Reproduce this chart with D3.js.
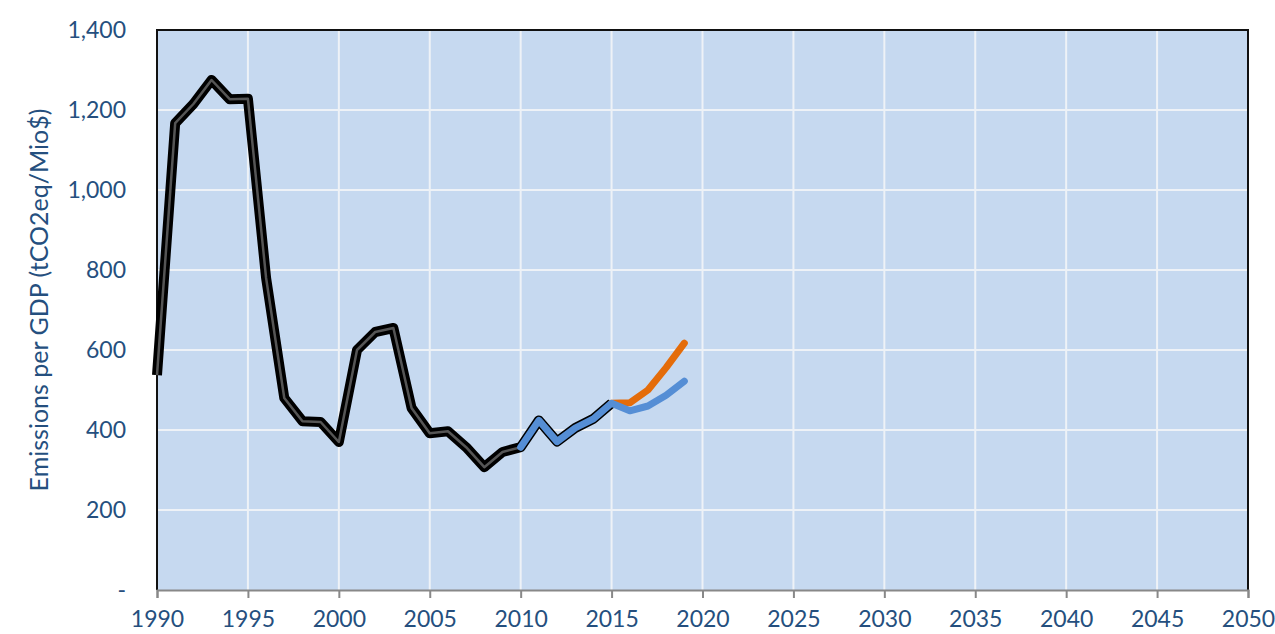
<!DOCTYPE html>
<html>
<head>
<meta charset="utf-8">
<script src="https://cdn.jsdelivr.net/npm/d3@7"></script>
<style>
  body { margin: 0; background: #fff; }
  text { font-family: Lato, "Open Sans", sans-serif; fill: #254f7e; }
</style>
</head>
<body>
<div id="chart"></div>
<script>
const width = 1275;
const height = 634;

// Data.
const histYears = [1990, 1991, 1992, 1993, 1994, 1995, 1996, 1997, 1998, 1999,
  2000, 2001, 2002, 2003, 2004, 2005, 2006, 2007, 2008, 2009,
  2010, 2011, 2012, 2013, 2014, 2015];
const histValues = [537, 1167, 1215, 1275, 1227, 1228, 780, 480, 422, 420,
  370, 600, 645, 655, 455, 392, 397, 357, 307, 345,
  357, 424, 371, 405, 428, 467];

const blueYears = [2010, 2011, 2012, 2013, 2014, 2015, 2016, 2017, 2018, 2019];
const blueValues = [357, 424, 371, 405, 428, 467, 448, 460, 487, 522];

const orangeYears = [2015, 2016, 2017, 2018, 2019];
const orangeValues = [467, 468, 500, 556, 617];

const xTicks = d3.range(1990, 2051, 5);
const yTicks = [0, 200, 400, 600, 800, 1000, 1200, 1400];

const margin = { top: 30, right: 27, bottom: 44, left: 157 };

const svg = d3.select("#chart")
  .append("svg")
  .attr("width", width)
  .attr("height", height);

const x = d3.scaleLinear()
  .domain([1990, 2050])
  .range([margin.left, width - margin.right]);

const y = d3.scaleLinear()
  .domain([0, 1400])
  .range([height - margin.bottom, margin.top]);

// plot background
svg.append("rect")
  .attr("x", x(1990))
  .attr("y", y(1400))
  .attr("width", x(2050) - x(1990))
  .attr("height", y(0) - y(1400))
  .attr("fill", "#c6d9f0");

// grid
svg.append("g")
  .selectAll("line")
  .data(yTicks.slice(1))
  .join("line")
  .attr("x1", x(1990))
  .attr("x2", x(2050))
  .attr("y1", d => y(d))
  .attr("y2", d => y(d))
  .attr("stroke", "#eef2f7")
  .attr("stroke-width", 2);

svg.append("g")
  .selectAll("line")
  .data(xTicks.slice(1, -1))
  .join("line")
  .attr("x1", d => x(d))
  .attr("x2", d => x(d))
  .attr("y1", y(0))
  .attr("y2", y(1400))
  .attr("stroke", "#eef2f7")
  .attr("stroke-width", 2);

// borders
svg.append("path")
  .attr("d", `M${x(1990)},${y(0)}V${y(1400)}H${x(2050)}V${y(0)}`)
  .attr("fill", "none")
  .attr("stroke", "#111")
  .attr("stroke-width", 2);

// x axis
const xAxis = svg.append("g")
  .attr("transform", `translate(0,${y(0)})`)
  .call(d3.axisBottom(x).tickValues(xTicks).tickFormat(d3.format("d")).tickSize(8).tickPadding(13));
xAxis.select(".domain").attr("stroke", "#888").attr("stroke-width", 2);
xAxis.selectAll(".tick line").attr("stroke", "#888").attr("stroke-width", 2);
xAxis.selectAll("text")
  .attr("font-size", 23)
  .attr("font-family", "Lato, sans-serif")
  .attr("fill", "#254f7e");

// y axis
const yAxis = svg.append("g")
  .attr("transform", `translate(${x(1990)},0)`)
  .call(d3.axisLeft(y).tickValues(yTicks)
    .tickFormat(d => d === 0 ? "-" : d3.format(",")(d))
    .tickSize(0).tickPadding(31));
yAxis.select(".domain").remove();
yAxis.selectAll("text")
  .attr("font-size", 23)
  .attr("font-family", "Lato, sans-serif")
  .attr("fill", "#254f7e");

svg.append("text")
  .attr("transform", `translate(48,${(y(0) + y(1400)) / 2 - 10}) rotate(-90)`)
  .attr("text-anchor", "middle")
  .attr("font-size", 25)
  .text("Emissions per GDP (tCO2eq/Mio$)");

// lines
const line = d3.line()
  .x(d => x(d[0]))
  .y(d => y(d[1]))
  .curve(d3.curveLinear);

const hist = d3.zip(histYears, histValues);

svg.append("path")
  .datum(hist)
  .attr("d", line)
  .attr("fill", "none")
  .attr("stroke", "#000")
  .attr("stroke-width", 10)
  .attr("stroke-linejoin", "round");

svg.append("path")
  .datum(hist)
  .attr("d", line)
  .attr("fill", "none")
  .attr("stroke", "#555")
  .attr("stroke-width", 2.5)
  .attr("stroke-linejoin", "round");

svg.append("path")
  .datum(d3.zip(orangeYears, orangeValues))
  .attr("d", line)
  .attr("fill", "none")
  .attr("stroke", "#e46c0a")
  .attr("stroke-width", 7)
  .attr("stroke-linejoin", "round")
  .attr("stroke-linecap", "round");

svg.append("path")
  .datum(d3.zip(blueYears, blueValues))
  .attr("d", line)
  .attr("fill", "none")
  .attr("stroke", "#558ed5")
  .attr("stroke-width", 7)
  .attr("stroke-linejoin", "round")
  .attr("stroke-linecap", "round");
</script>
</body>
</html>
